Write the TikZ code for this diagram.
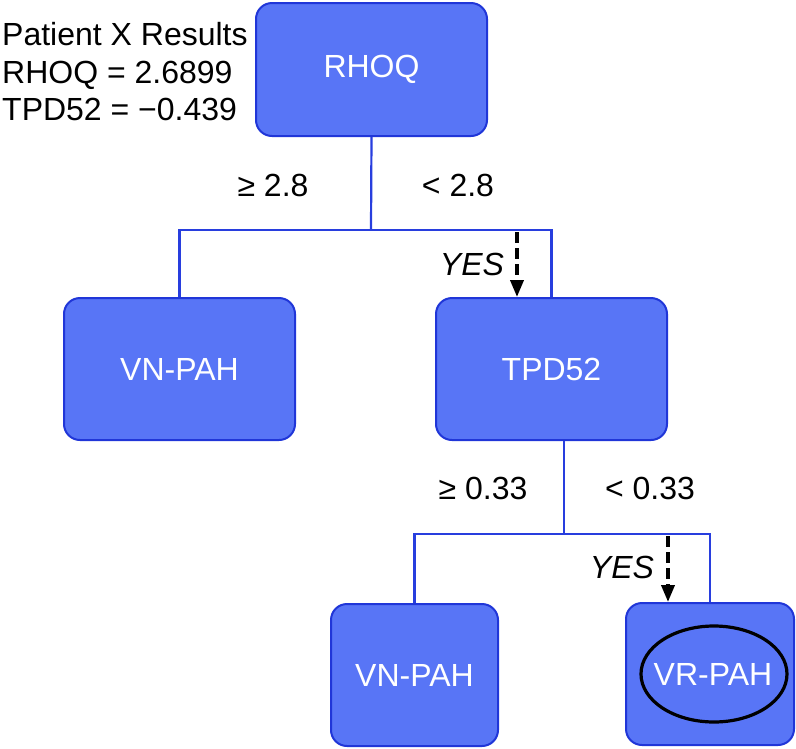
\documentclass[tikz,border=0pt]{standalone}
\usepackage{fontspec}
\setmainfont{Liberation Sans}
\usepackage{tikz}
\usetikzlibrary{arrows.meta}
\definecolor{boxfill}{RGB}{88,117,246}
\definecolor{boxedge}{RGB}{32,54,216}
\definecolor{linkblue}{RGB}{40,62,222}
\tikzset{
    box/.style={rectangle, rounded corners=16pt, draw=boxedge, line width=2pt, fill=boxfill,
        text=white, minimum width=231pt, minimum height=142pt, inner sep=0pt}, % tree node box
    branch/.style={draw=linkblue, line width=2.2pt}, % blue split lines
    yesarrow/.style={draw=black, line width=3.6pt, dash pattern=on 11pt off 5pt,
        -{Triangle[length=17pt, width=13pt]}}, % dashed decision path
    ring/.style={draw=black, line width=3.2pt}
}

\begin{document}
\begin{tikzpicture}[x=1pt, y=-1pt, font=\fontsize{32}{38}\selectfont]
    \useasboundingbox (0,0) rectangle (796,748);

    % patient values
    \foreach \y/\txt [count=\i] in {
        45/{Patient X Results},
        83/{RHOQ = 2.6899},
        120/{TPD52 = −0.439}
    } {
        \node[anchor=base west, inner sep=0pt] (info\i) at (2,\y) {\txt};
    }

    % tree nodes
    \node[box, minimum height=133pt] (rhoq) at (371.5,69.5) {RHOQ};
    \node[box] (vnpahL) at (179.5,369) {VN-PAH};
    \node[box] (tpd) at (551.5,369) {TPD52};
    \node[box, minimum width=167pt] (vnpahB) at (414.5,675) {VN-PAH};
    \node[box, minimum width=168pt] (vrpah) at (710,674) {\hspace{6pt}VR-PAH};
    \draw[ring] (714,674) ellipse [x radius=73, y radius=48];

    % splits
    \coordinate (split1) at (371,230);
    \coordinate (split2) at (564,534);
    \draw[branch] (rhoq.south) -- (split1);
    \draw[branch] (vnpahL.north) |- (split1) -| (tpd.north);
    \draw[branch] (tpd.south -| split2) -- (split2);
    \draw[branch] (vnpahB.north) |- (split2) -| (vrpah.north);

    % thresholds
    \node (geA) at (273,185) {≥ 2.8};
    \node (ltA) at (458,185) {< 2.8};
    \node (geB) at (483,488) {≥ 0.33};
    \node (ltB) at (650,488) {< 0.33};

    % path taken
    \coordinate (yes1) at (517,232);
    \coordinate (yes2) at (668,536);
    \draw[yesarrow] (yes1) -- (yes1 |- tpd.north);
    \draw[yesarrow] (yes2) -- (yes2 |- vrpah.north);
    \node[font=\fontsize{32}{38}\selectfont\itshape] (yesA) at (472,264) {YES};
    \node[font=\fontsize{32}{38}\selectfont\itshape] (yesB) at (622,567) {YES};
\end{tikzpicture}
\end{document}
